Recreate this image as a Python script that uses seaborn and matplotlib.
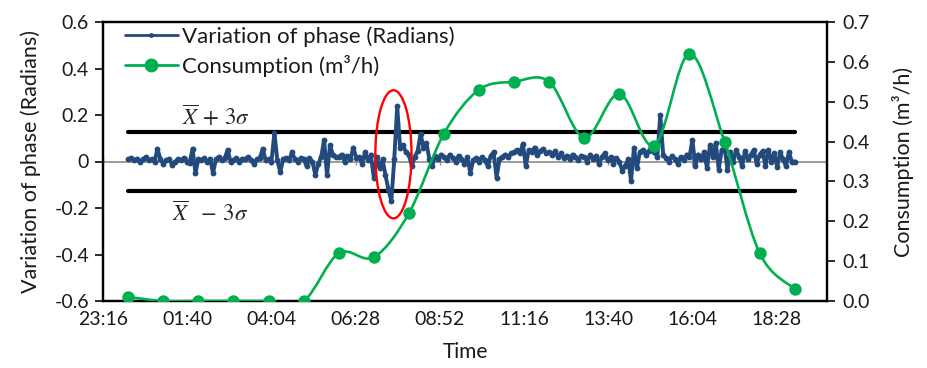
import numpy as np
import pandas as pd
import matplotlib
matplotlib.use("Agg")
import matplotlib.pyplot as plt
from matplotlib.path import Path
from matplotlib.patches import PathPatch, Ellipse
from matplotlib.lines import Line2D
import seaborn as sns

# ---------------- data ----------------
# x positions in minutes after midnight (00:00 = 0)
x_min, x_max = -43.2, 1195.2          # 23:16.8 ... 19:55
tick_pos = [-43.2 + 144 * k for k in range(9)]
tick_labels = ["23:16", "01:40", "04:04", "06:28", "08:52",
               "11:16", "13:40", "16:04", "18:28"]

# hourly consumption (m3/h), 00:00 .. 19:00
cons_hours = list(range(20))
consumption = [0.01, 0.0, 0.0, 0.0, 0.0, 0.0, 0.12, 0.11, 0.22, 0.42,
               0.53, 0.55, 0.55, 0.41, 0.52, 0.39, 0.62, 0.40, 0.12, 0.03]

# phase variation (radians), every 5 min, 00:00 .. 19:00
phase_h00 = [0.01, 0.015, 0.005, 0.012, 0.0, 0.01, 0.018, 0.005, 0.01, 0.0, 0.055, 0.01]
phase_h01 = [-0.01, 0.005, 0.012, -0.015, 0.0, 0.01, 0.005, 0.015, 0.0, -0.005, 0.055, -0.05]
phase_h02 = [0.01, 0.005, 0.015, 0.0, 0.012, -0.05, 0.01, 0.02, 0.005, 0.015, 0.05, 0.0]
phase_h03 = [0.005, 0.015, 0.0, 0.012, 0.01, 0.02, 0.005, -0.01, 0.01, 0.015, 0.055, 0.005]
phase_h04 = [0.01, 0.0, 0.124, 0.005, -0.045, 0.01, 0.015, 0.005, 0.04, 0.01, 0.0, 0.015]
phase_h05 = [0.01, -0.02, 0.015, 0.0, -0.058, -0.01, 0.02, 0.093, -0.06, 0.07, 0.03, 0.02]
phase_h06 = [0.02, 0.03, 0.0, 0.025, 0.01, 0.06, 0.015, 0.02, -0.01, 0.04, 0.005, 0.03]
phase_h07 = [-0.07, 0.02, -0.03, 0.01, -0.06, -0.12, -0.17, 0.01, 0.237, 0.06, 0.07, 0.04]
phase_h08 = [0.03, -0.02, 0.02, 0.045, 0.12, 0.06, 0.08, 0.01, -0.02, 0.025, 0.01, 0.03]
phase_h09 = [0.02, 0.005, 0.03, 0.015, 0.0, 0.025, 0.01, -0.01, 0.02, -0.05, 0.005, 0.015]
phase_h10 = [0.0, 0.02, 0.005, -0.02, 0.025, 0.04, -0.07, 0.01, 0.02, 0.03, 0.02, 0.035]
phase_h11 = [0.04, 0.05, 0.035, 0.077, -0.02, 0.05, 0.04, 0.06, 0.03, 0.045, 0.055, 0.035]
phase_h12 = [0.04, 0.03, 0.045, 0.02, 0.035, 0.015, 0.025, 0.01, 0.03, 0.02, 0.005, 0.025]
phase_h13 = [0.02, 0.0, 0.03, 0.01, 0.025, -0.01, 0.02, 0.035, 0.005, 0.02, -0.01, 0.015]
phase_h14 = [0.0, -0.04, -0.02, 0.01, -0.085, 0.06, -0.03, 0.04, 0.05, 0.03, 0.045, 0.06]
phase_h15 = [0.04, 0.02, 0.2, 0.03, 0.015, 0.0, 0.025, 0.01, -0.01, 0.02, 0.005, 0.03]
phase_h16 = [0.02, 0.093, -0.02, 0.03, 0.01, 0.04, -0.03, 0.07, 0.02, 0.08, -0.035, 0.05]
phase_h17 = [0.06, -0.035, 0.04, 0.0, 0.05, 0.02, -0.02, 0.045, 0.01, 0.03, 0.05, -0.01]
phase_h18 = [0.03, 0.045, -0.02, 0.05, 0.0, 0.035, -0.025, 0.04, 0.01, -0.02, 0.04, 0.0]
phase_h19 = [0.0]
phase = (phase_h00 + phase_h01 + phase_h02 + phase_h03 + phase_h04 + phase_h05 +
         phase_h06 + phase_h07 + phase_h08 + phase_h09 + phase_h10 + phase_h11 +
         phase_h12 + phase_h13 + phase_h14 + phase_h15 + phase_h16 + phase_h17 +
         phase_h18 + phase_h19)
phase_minutes = [5 * i for i in range(len(phase))]

upper_limit = 0.127
lower_limit = -0.128
limit_start, limit_end = 0, 1140  # 00:00 .. 19:00

# ---------------- style ----------------
sns.set_style("white")
plt.rcParams["font.family"] = ["Lato", "DejaVu Sans"]
plt.rcParams["axes.unicode_minus"] = False
plt.rcParams["mathtext.fontset"] = "stix"

BLUE = "#234A7C"
GREEN = "#00B050"

fig = plt.figure(figsize=(9.27, 3.68), dpi=100)
ax = fig.add_axes([103 / 927, 67 / 368, 724 / 927, 279 / 368])
ax2 = ax.twinx()

# zero line with tick marks (category axis crossing at 0)
ax.axhline(0, color="#8C8C8C", lw=1.2, zorder=1)
sec = ax.secondary_xaxis(0.5)
sec.set_xticks(tick_pos)
sec.tick_params(axis="x", direction="inout", length=6, width=1, color="#8C8C8C",
                labelbottom=False, labeltop=False)
for s in sec.spines.values():
    s.set_visible(False)

# control limits
df_lim = pd.DataFrame({"t": [limit_start, limit_end, limit_start, limit_end],
                       "v": [upper_limit, upper_limit, lower_limit, lower_limit],
                       "g": ["u", "u", "l", "l"]})
for g, sub in df_lim.groupby("g"):
    sns.lineplot(data=sub, x="t", y="v", ax=ax, color="black", lw=3, zorder=2,
                 legend=False, estimator=None)

# phase series
df_phase = pd.DataFrame({"t": phase_minutes, "v": phase})
sns.lineplot(data=df_phase, x="t", y="v", ax=ax, color=BLUE, lw=2.8, marker="o",
             markersize=4.2, markeredgewidth=0, zorder=3, legend=False, estimator=None)

# red ellipse
ax.add_patch(Ellipse((453.6, 0.031), width=61.8, height=0.551, fill=False,
                     edgecolor="#FF0000", lw=1.7, zorder=5))

# limit labels
ax.text(92, 0.197, r"$\overline{X}\,+\,3\sigma$", fontsize=16.5, va="center", ha="left", zorder=6)
ax.text(75, -0.222, r"$\overline{X}\ \ -\,3\sigma$", fontsize=16.5, va="center", ha="left", zorder=6)

# consumption: smooth (Excel-like Catmull-Rom bezier) through hourly points
cx = [60.0 * h for h in cons_hours]
cy = consumption
pts = np.column_stack([cx, cy])
verts = [pts[0]]
codes = [Path.MOVETO]
n = len(pts)
for i in range(n - 1):
    p0 = pts[i - 1] if i > 0 else pts[i]
    p1 = pts[i]
    p2 = pts[i + 1]
    p3 = pts[i + 2] if i + 2 < n else pts[i + 1]
    c1 = p1 + (p2 - p0) / 6.0
    c2 = p2 - (p3 - p1) / 6.0
    verts += [c1, c2, p2]
    codes += [Path.CURVE4] * 3
ax2.add_patch(PathPatch(Path(verts, codes), fill=False, edgecolor=GREEN, lw=1.9, zorder=3))
df_cons = pd.DataFrame({"t": cx, "v": cy})
sns.scatterplot(data=df_cons, x="t", y="v", ax=ax2, color=GREEN, s=80,
                edgecolor=GREEN, linewidth=0, zorder=4, legend=False)

# axes setup
ax.set_xlim(x_min, x_max)
ax.set_ylim(-0.6, 0.6)
ax2.set_ylim(0, 0.7)
ax.set_xticks(tick_pos)
ax.set_xticklabels(tick_labels)
ax.set_yticks([-0.6, -0.4, -0.2, 0, 0.2, 0.4, 0.6])
ax.set_yticklabels(["-0.6", "-0.4", "-0.2", "0", "0.2", "0.4", "0.6"])
ax2.set_yticks([0, 0.1, 0.2, 0.3, 0.4, 0.5, 0.6, 0.7])
ax2.set_yticklabels([f"{v:.1f}" for v in [0, 0.1, 0.2, 0.3, 0.4, 0.5, 0.6, 0.7]])

ax.tick_params(axis="x", length=0, labelsize=14, pad=7, colors="#1a1a1a")
ax.tick_params(axis="y", left=True, direction="out", length=6, width=1.3,
               labelsize=14, colors="#1a1a1a", pad=4)
ax2.tick_params(axis="y", right=True, direction="out", length=6, width=1.3,
                labelsize=14, colors="#1a1a1a", pad=5)
for a in (ax, ax2):
    for s in a.spines.values():
        s.set_color("black")
        s.set_linewidth(1.6)
    a.grid(False)

ax.set_xlabel("Time", fontsize=15, labelpad=10, color="#1a1a1a")
ax.set_ylabel("Variation of phase (Radians)", fontsize=15.5, labelpad=10, color="#1a1a1a")
ax2.set_ylabel("Consumption (m³/h)", fontsize=15.5, labelpad=16, color="#1a1a1a")

handles = [
    Line2D([], [], color=BLUE, lw=2, marker="o", markersize=2.5),
    Line2D([], [], color=GREEN, lw=2, marker="o", markersize=9),
]
leg = ax2.legend(handles, ["Variation of phase (Radians)", "Consumption (m³/h)"],
                 loc="upper left", bbox_to_anchor=(0.03, 0.985), frameon=False,
                 fontsize=16, handlelength=2.4, handletextpad=0.2, labelspacing=0.35,
                 borderpad=0, borderaxespad=0, numpoints=1)
for t in leg.get_texts():
    t.set_color("#1a1a1a")

fig.savefig("out.png", dpi=100)
